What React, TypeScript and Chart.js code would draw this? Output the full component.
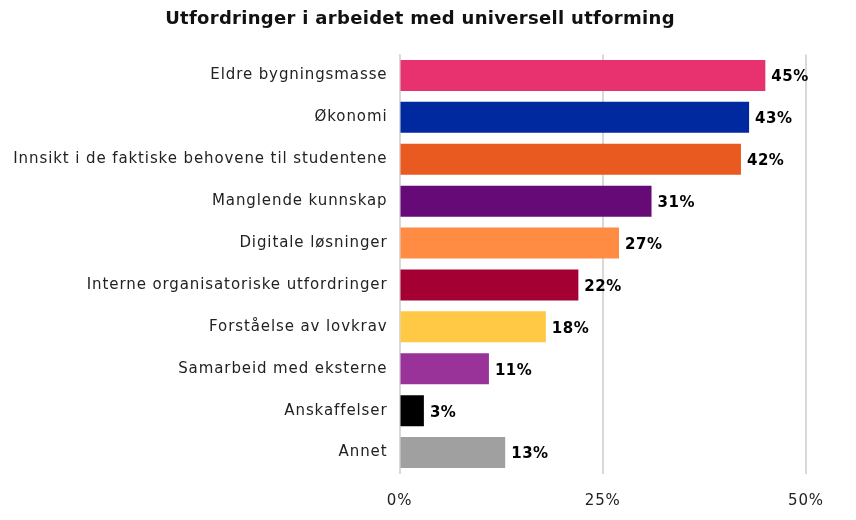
import React, { useEffect, useRef } from "react";
import { Chart, registerables } from "chart.js";

Chart.register(...registerables);

const categories = [
  "Eldre bygningsmasse",
  "Økonomi",
  "Innsikt i de faktiske behovene til studentene",
  "Manglende kunnskap",
  "Digitale løsninger",
  "Interne organisatoriske utfordringer",
  "Forståelse av lovkrav",
  "Samarbeid med eksterne",
  "Anskaffelser",
  "Annet",
];
const values = [45, 43, 42, 31, 27, 22, 18, 11, 3, 13];
const barColors = [
  "#E8326F",
  "#0029A0",
  "#E85A1F",
  "#650A76",
  "#FF8C42",
  "#A50034",
  "#FFC845",
  "#993399",
  "#000000",
  "#A0A0A0",
];
const tickValues = [0, 25, 50];
const titleText = "Utfordringer i arbeidet med universell utforming";

const FONT = "'DejaVu Sans'";

const spacingPlugin = {
  id: "spacing",
  beforeDraw(chart: any) {
    chart.ctx.letterSpacing = "0.9px";
  },
};

const titlePlugin = {
  id: "customTitle",
  afterDraw(chart: any) {
    const ctx = chart.ctx;
    ctx.save();
    ctx.letterSpacing = "0.3px";
    ctx.font = `bold 18px ${FONT}`;
    ctx.fillStyle = "#111111";
    ctx.textAlign = "center";
    ctx.textBaseline = "middle";
    ctx.fillText(titleText, 420, 19);
    ctx.restore();
  },
};

const valueLabelPlugin = {
  id: "valueLabels",
  afterDatasetsDraw(chart: any) {
    const ctx = chart.ctx;
    const meta = chart.getDatasetMeta(0);
    ctx.save();
    ctx.letterSpacing = "0.5px";
    ctx.font = `bold 15px ${FONT}`;
    ctx.fillStyle = "#000000";
    ctx.textAlign = "left";
    ctx.textBaseline = "middle";
    meta.data.forEach((bar: any, i: number) => {
      ctx.fillText(`${values[i]}%`, bar.x + 6, bar.y + 2);
    });
    ctx.restore();
  },
};

export default function App() {
  const ref = useRef<HTMLCanvasElement>(null);
  useEffect(() => {
    if (!ref.current) return;
    const chart = new Chart(ref.current, {
      type: "bar",
      data: {
        labels: categories,
        datasets: [
          {
            data: values,
            backgroundColor: barColors,
            barPercentage: 0.925,
            categoryPercentage: 0.8,
          },
        ],
      },
      options: {
        indexAxis: "y",
        animation: false,
        responsive: true,
        maintainAspectRatio: false,
        layout: { padding: { left: 0, right: 50, top: 54.5, bottom: 0 } },
        plugins: {
          legend: { display: false },
          tooltip: { enabled: false },
          title: { display: false },
        },
        scales: {
          x: {
            min: 0,
            max: 50,
            afterBuildTicks: (axis: any) => {
              axis.ticks = tickValues.map((v) => ({ value: v }));
            },
            afterFit: (axis: any) => {
              axis.height = 46.5;
            },
            ticks: {
              callback: (v: any) => `${v}%`,
              color: "#222222",
              font: { family: FONT, size: 15 },
              padding: 19,
            },
            grid: { color: "#d9d9d9", lineWidth: 2, drawTicks: false },
            border: { display: false },
          },
          y: {
            afterFit: (axis: any) => {
              axis.width = 399.5;
            },
            ticks: {
              color: "#222222",
              font: { family: FONT, size: 15 },
              padding: 12,
            },
            grid: { display: false, drawTicks: false },
            border: { display: true, color: "#d9d9d9", width: 1 },
          },
        },
      },
      plugins: [spacingPlugin, valueLabelPlugin, titlePlugin],
    });
    return () => chart.destroy();
  }, []);
  return (
    <div style={{ position: "absolute", left: 0, top: 0, width: 856, height: 520 }}>
      <canvas ref={ref} />
    </div>
  );
}
